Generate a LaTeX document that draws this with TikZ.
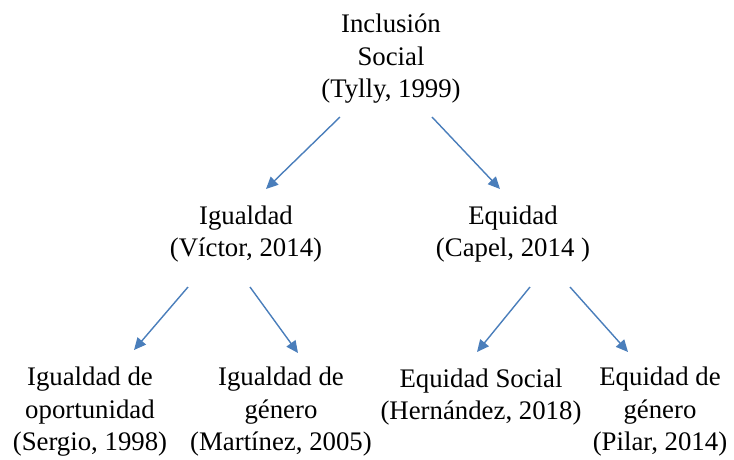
\documentclass[tikz,border=0pt]{standalone}
\usepackage{fontspec}
\setmainfont{Liberation Serif}
\usetikzlibrary{arrows.meta}
\definecolor{arrblue}{HTML}{4A7EBB}
\begin{document}
\begin{tikzpicture}[x=1pt,y=-1pt,
  txt/.style={align=center,inner sep=0pt,font=\fontsize{26.8}{32.5}\selectfont},
  arr/.style={draw=arrblue,line width=1.4pt,-{Triangle[length=12pt,width=11pt]}}]
\useasboundingbox (0,0) rectangle (734,459);
\node[txt] (top) at (391,59) {Inclusión\\Social\\(Tylly, 1999)};
\node[txt] (igu) at (246,234) {Igualdad\\(Víctor, 2014)};
\node[txt] (equ) at (513,234) {Equidad\\(Capel, 2014 )};
\node[txt] (igop) at (90,412) {Igualdad de\\oportunidad\\(Sergio, 1998)};
\node[txt] (igge) at (281,412) {Igualdad de\\género\\(Martínez, 2005)};
\node[txt] (eqso) at (481,397) {Equidad Social\\(Hernández, 2018)};
\node[txt] (eqge) at (660,412) {Equidad de\\género\\(Pilar, 2014)};
\coordinate (s1) at (340,117); \coordinate (e1) at (266,189);
\coordinate (s2) at (432,117); \coordinate (e2) at (500,189);
\coordinate (s3) at (188,287); \coordinate (e3) at (134,350);
\coordinate (s4) at (250,287); \coordinate (e4) at (298,353);
\coordinate (s5) at (530,287); \coordinate (e5) at (477,352);
\coordinate (s6) at (570,287); \coordinate (e6) at (628,352);
\draw[arr] (s1) -- (e1);
\draw[arr] (s2) -- (e2);
\draw[arr] (s3) -- (e3);
\draw[arr] (s4) -- (e4);
\draw[arr] (s5) -- (e5);
\draw[arr] (s6) -- (e6);
\end{tikzpicture}
\end{document}
